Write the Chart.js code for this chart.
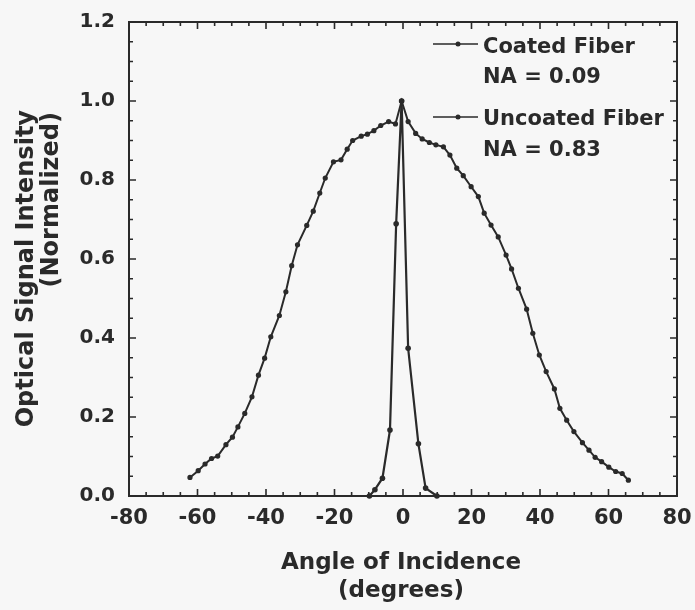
<!DOCTYPE html>
<html><head><meta charset="utf-8">
<script src="https://cdn.jsdelivr.net/npm/chart.js@4/dist/chart.umd.min.js"></script>
<style>html,body{margin:0;padding:0;background:#f7f7f7;}#wrap{width:695px;height:610px;}</style>
</head><body><div id="wrap"><canvas id="c" width="695" height="610"></canvas></div>
<script>
// ---- data ----
const coatedAngle = [-9.8, -8.2, -6.0, -3.8, -2.0, -0.4, 1.5, 4.5, 6.6, 9.9];
const coatedIntensity = [0.0, 0.016, 0.045, 0.167, 0.689, 1.0, 0.374, 0.132, 0.020, 0.0];

const uncoatedAngle = [-62.2, -59.8, -57.8, -55.9, -54.1, -51.7, -49.8, -48.2, -46.2, -44.1,
  -42.2, -40.4, -38.6, -36.1, -34.2, -32.5, -30.8, -28.1, -26.2, -24.3,
  -22.7, -20.3, -18.1, -16.3, -14.7, -12.2, -10.4, -8.5, -6.5, -4.2,
  -2.2, -0.4, 1.5, 3.7, 5.6, 7.7, 9.6, 11.8, 13.7, 15.7,
  17.6, 19.9, 22.0, 23.7, 25.7, 27.8, 30.1, 31.7, 33.7, 36.1,
  37.9, 39.8, 41.8, 44.2, 45.8, 47.8, 49.9, 52.4, 54.3, 56.1,
  58.0, 60.1, 62.1, 64.0, 65.8];
const uncoatedIntensity = [0.047, 0.064, 0.081, 0.095, 0.101, 0.130, 0.149, 0.175, 0.209, 0.251,
  0.306, 0.349, 0.403, 0.457, 0.517, 0.583, 0.636, 0.685, 0.721, 0.767,
  0.805, 0.846, 0.851, 0.878, 0.900, 0.911, 0.916, 0.925, 0.938, 0.948,
  0.942, 1.0, 0.948, 0.918, 0.904, 0.895, 0.889, 0.884, 0.863, 0.830,
  0.811, 0.783, 0.758, 0.716, 0.686, 0.656, 0.610, 0.575, 0.526, 0.473,
  0.412, 0.357, 0.315, 0.271, 0.222, 0.192, 0.163, 0.135, 0.116, 0.098,
  0.087, 0.073, 0.062, 0.057, 0.040];

const seriesNames = ['Coated Fiber', 'Uncoated Fiber'];
const seriesNotes = ['NA = 0.09', 'NA = 0.83'];
const xTitleLines = ['Angle of Incidence', '(degrees)'];
const yTitleLines = ['Optical Signal Intensity', '(Normalized)'];
const xMin = -80, xMax = 80, xStep = 20, xMinorStep = 5;
const yMin = 0, yMax = 1.2, yStep = 0.2, yMinorStep = 0.05;

// ---- styling ----
const INK = '#2a2a2a';
const FONT = '"DejaVu Sans", "Liberation Sans", sans-serif';

const pts = (xs, ys) => xs.map((x, i) => ({ x: x, y: ys[i] }));

const frameTicks = {
  id: 'frameTicks',
  afterDatasetsDraw(chart) {
    const { ctx, chartArea: a, scales: { x, y } } = chart;
    ctx.save();
    ctx.strokeStyle = INK;
    ctx.lineWidth = 2;
    ctx.strokeRect(a.left, a.top, a.right - a.left, a.bottom - a.top);
    ctx.lineWidth = 1.6;
    ctx.beginPath();
    const nx = Math.round((xMax - xMin) / xMinorStep);
    for (let i = 0; i <= nx; i++) {
      const v = xMin + i * xMinorStep;
      const len = (Math.abs(v / xStep - Math.round(v / xStep)) < 1e-6) ? 7 : 4;
      const px = x.getPixelForValue(v);
      ctx.moveTo(px, a.bottom); ctx.lineTo(px, a.bottom - len);
      ctx.moveTo(px, a.top); ctx.lineTo(px, a.top + len);
    }
    const ny = Math.round((yMax - yMin) / yMinorStep);
    for (let i = 0; i <= ny; i++) {
      const v = yMin + i * yMinorStep;
      const len = (Math.abs(v / yStep - Math.round(v / yStep)) < 1e-6) ? 7 : 4;
      const py = y.getPixelForValue(v);
      ctx.moveTo(a.left, py); ctx.lineTo(a.left + len, py);
      ctx.moveTo(a.right, py); ctx.lineTo(a.right - len, py);
    }
    ctx.stroke();
    ctx.restore();
  }
};

const titlesLegend = {
  id: 'titlesLegend',
  afterDraw(chart) {
    const { ctx, chartArea: a } = chart;
    ctx.save();
    ctx.fillStyle = INK;
    // x title
    ctx.font = 'bold 23px ' + FONT;
    ctx.textAlign = 'center';
    ctx.textBaseline = 'middle';
    const cx = (a.left + a.right) / 2 - 2;
    ctx.fillText(xTitleLines[0], cx, a.bottom + 67);
    ctx.fillText(xTitleLines[1], cx, a.bottom + 95);
    // y title
    ctx.save();
    ctx.translate(0, 0);
    ctx.rotate(-Math.PI / 2);
    ctx.textAlign = 'right';
    ctx.textBaseline = 'alphabetic';
    ctx.font = 'bold 24px ' + FONT;
    ctx.fillText(yTitleLines[0], -110, 33);
    ctx.fillText(yTitleLines[1], -112, 58);
    ctx.restore();
    // legend
    ctx.font = 'bold 21px ' + FONT;
    ctx.textAlign = 'left';
    ctx.textBaseline = 'alphabetic';
    const rows = [{ ly: 44, t1: 53, t2: 83 }, { ly: 117, t1: 125, t2: 156 }];
    rows.forEach((r, i) => {
      ctx.strokeStyle = INK;
      ctx.lineWidth = 1.5;
      ctx.beginPath();
      ctx.moveTo(433, r.ly); ctx.lineTo(478, r.ly);
      ctx.stroke();
      ctx.beginPath();
      ctx.arc(458, r.ly, 2.5, 0, Math.PI * 2);
      ctx.fill();
      ctx.fillText(seriesNames[i], 483, r.t1);
      ctx.fillText(seriesNotes[i], 483, r.t2);
    });
    ctx.restore();
  }
};

new Chart(document.getElementById('c'), {
  type: 'scatter',
  data: {
    datasets: [
      {
        label: seriesNames[1], data: pts(uncoatedAngle, uncoatedIntensity), showLine: true,
        borderColor: INK, backgroundColor: INK, borderWidth: 2, pointRadius: 2.6,
        pointBorderWidth: 0, pointStyle: 'circle', clip: false, tension: 0
      },
      {
        label: seriesNames[0], data: pts(coatedAngle, coatedIntensity), showLine: true,
        borderColor: INK, backgroundColor: INK, borderWidth: 2.2, pointRadius: 2.8,
        pointBorderWidth: 0, pointStyle: 'circle', clip: false, tension: 0
      }
    ]
  },
  options: {
    responsive: false,
    animation: false,
    devicePixelRatio: 1,
    layout: { padding: { top: 22, right: 18, left: 0, bottom: 0 } },
    plugins: { legend: { display: false }, tooltip: { enabled: false } },
    scales: {
      x: {
        type: 'linear', min: xMin, max: xMax,
        grid: { display: false, drawTicks: false }, border: { display: false },
        ticks: { stepSize: xStep, color: INK, font: { family: FONT, weight: 'bold', size: 21 }, padding: 10,
          callback: v => String(v) },
        afterFit: s => { s.height = 114; s.paddingLeft = 0; s.paddingRight = 0; }
      },
      y: {
        type: 'linear', min: yMin, max: yMax,
        grid: { display: false, drawTicks: false }, border: { display: false },
        ticks: { stepSize: yStep, color: INK, font: { family: FONT, weight: 'bold', size: 20 }, padding: 14,
          callback: v => Number(v).toFixed(1) },
        afterFit: s => { s.width = 129; s.paddingTop = 0; s.paddingBottom = 0; }
      }
    }
  },
  plugins: [frameTicks, titlesLegend]
});
</script>
</body></html>
